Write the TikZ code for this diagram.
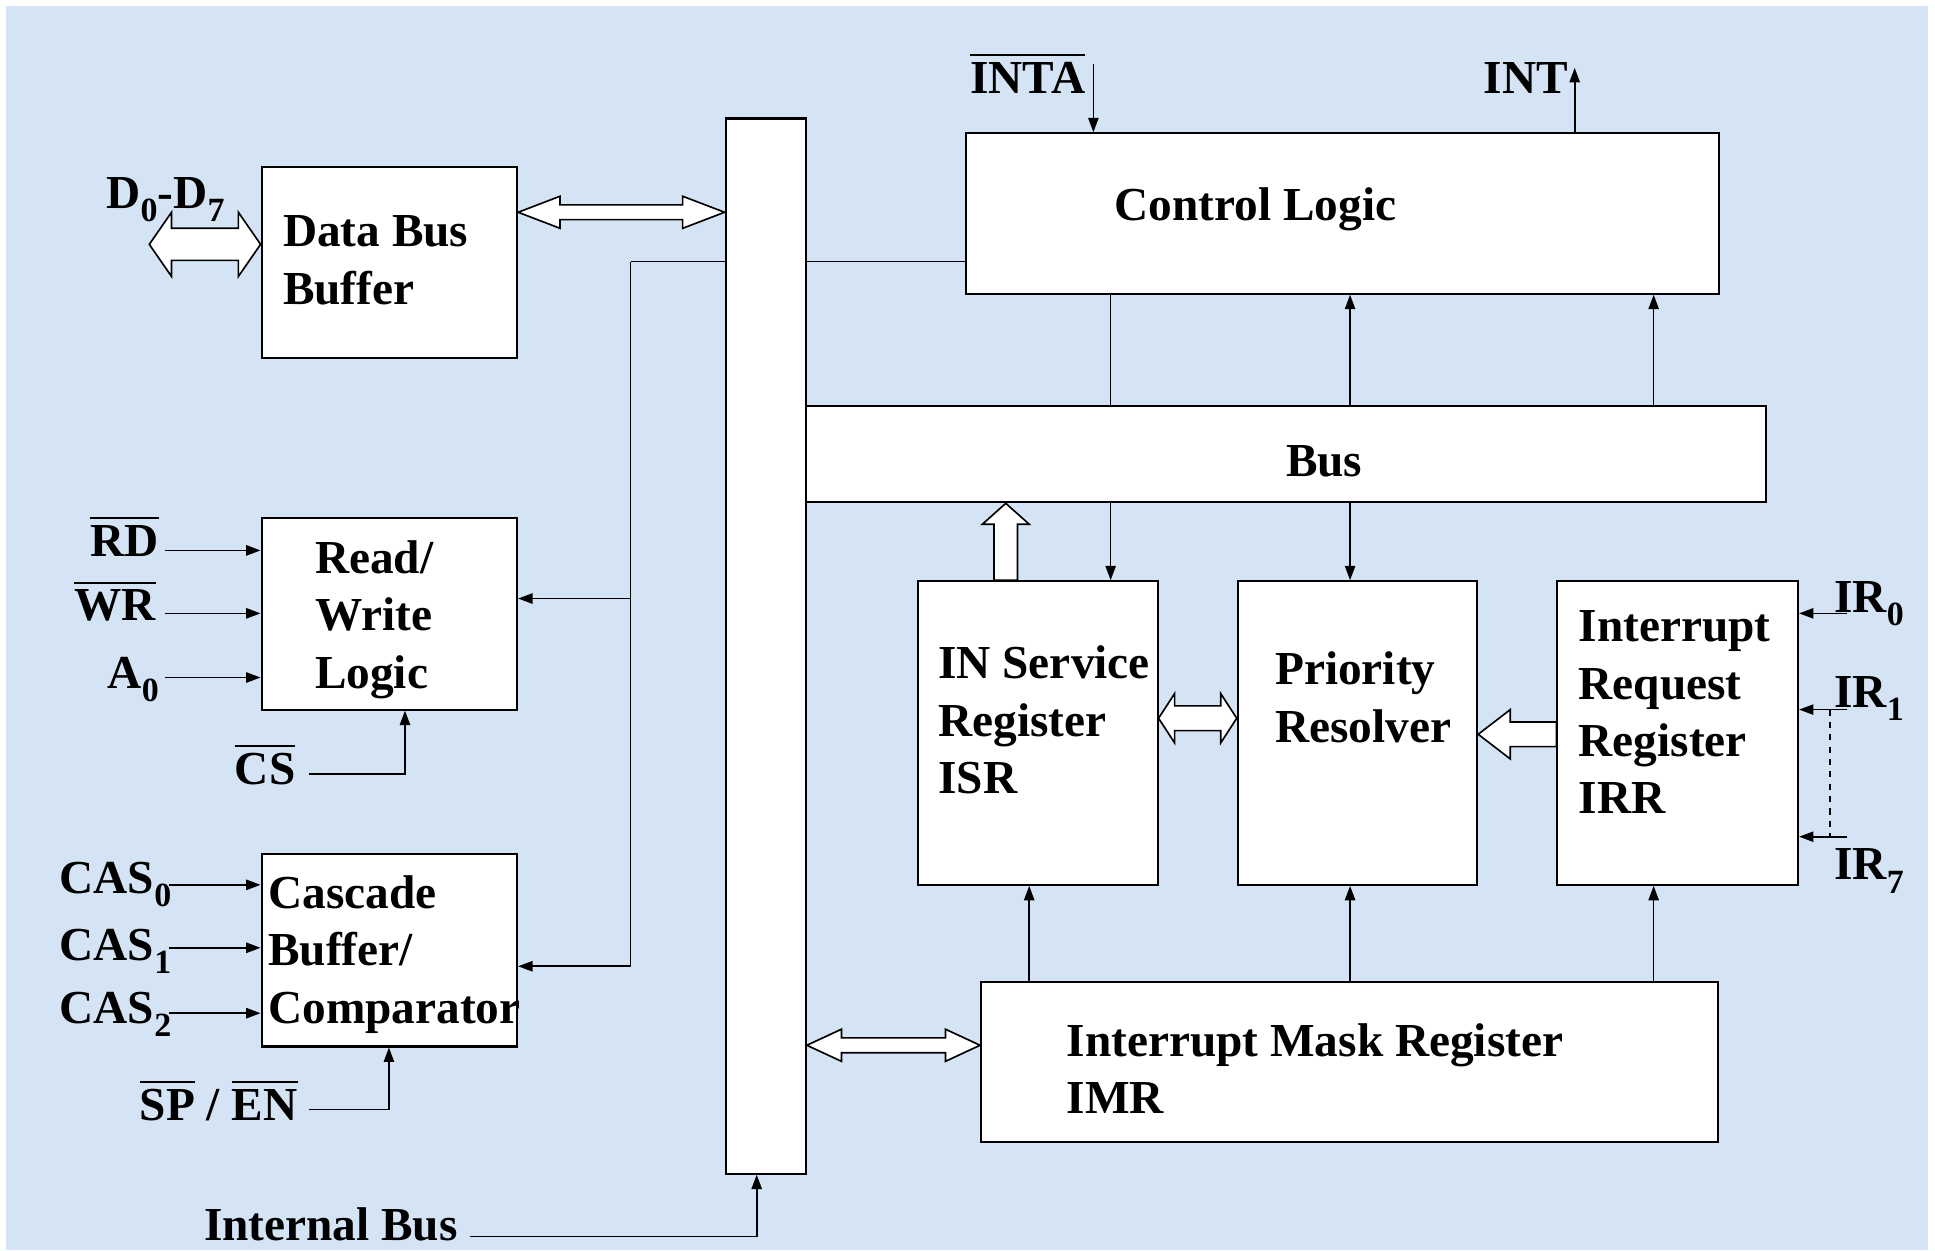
\documentclass[tikz,border=0pt]{standalone}
\usepackage{fontspec}
\setmainfont{Liberation Serif}
\usetikzlibrary{arrows.meta,fit,calc}
\definecolor{bgblue}{RGB}{213,228,244}
\newcommand\ml[1]{\vtop{\halign{##\hfil\cr#1\crcr}}}
\newcommand\ovl[1]{\vbox{\hrule height 1pt\kern 3pt\hbox{#1}}}
\newcommand\lsub[1]{\raisebox{-6.5pt}{\fontsize{16.5}{16.5}\selectfont #1}}
% horizontal double hollow arrow: #1 left tip, #2 right tip, #3 shaft half, #4 head half, #5 head length
\newcommand\hdouble[5]{\draw[hollow] (#1) -- ($(#1)+(#5,-#4)$) -- ($(#1)+(#5,-#3)$) -- ($(#2)+(-#5,-#3)$) -- ($(#2)+(-#5,-#4)$) -- (#2) -- ($(#2)+(-#5,#4)$) -- ($(#2)+(-#5,#3)$) -- ($(#1)+(#5,#3)$) -- ($(#1)+(#5,#4)$) -- cycle;}
% leftward single hollow arrow: #1 tip (left), #2 tail (right)
\newcommand\hleft[5]{\draw[hollow] (#1) -- ($(#1)+(#5,-#4)$) -- ($(#1)+(#5,-#3)$) -- ($(#2)+(0,-#3)$) -- ($(#2)+(0,#3)$) -- ($(#1)+(#5,#3)$) -- ($(#1)+(#5,#4)$) -- cycle;}
% upward single hollow arrow: #1 tip (top), #2 tail (bottom)
\newcommand\vup[5]{\draw[hollow] (#1) -- ($(#1)+(#4,#5)$) -- ($(#1)+(#3,#5)$) -- ($(#2)+(#3,0)$) -- ($(#2)+(-#3,0)$) -- ($(#1)+(-#3,#5)$) -- ($(#1)+(-#4,#5)$) -- cycle;}
\tikzset{
  box/.style={draw, fill=white, line width=1pt, inner sep=0pt},
  txt/.style={inner sep=0pt, anchor=base west, font=\bfseries\fontsize{23}{27.9}\selectfont},
  arr/.style={line width=0.8pt, -{Triangle[length=7pt,width=5pt]}},
  ln/.style={line width=0.8pt},
  hollow/.style={draw, fill=white, line width=0.8pt, line join=miter}
}
\begin{document}
\begin{tikzpicture}[x=0.6pt,y=-0.6pt]
\useasboundingbox (0,0) rectangle (1568,1013);
\fill[white] (0,0) rectangle (1568,1013);
\fill[bgblue] (5,5) rectangle (1562,1013);

% boxes
\node[box, fit={(212,135)(419,290)}] (dbb) {};
\node[box, fit={(212,420)(419,575)}] (rwl) {};
\node[box, fit={(212,692)(419,848)}] (cas) {};
\node[box, fit={(588,96)(653,951)}] (ibus) {};
\node[box, fit={(783,108)(1393,238)}] (ctl) {};
\node[box, fit={(653,329)(1431,407)}] (bus) {};
\node[box, fit={(744,471)(938,717)}] (isr) {};
\node[box, fit={(1003,471)(1197,717)}] (pr) {};
\node[box, fit={(1262,471)(1457,717)}] (irr) {};
\node[box, fit={(795,796)(1392,925)}] (imr) {};

% box texts
\node[txt] (dbbT) at (229,200) {\ml{Data Bus\cr Buffer}};
\node[txt] (rwlT) at (255,464.5) {\ml{Read/\cr Write\cr Logic}};
\node[txt] (casT) at (217,736) {\ml{Cascade\cr Buffer/\cr Comparator}};
\node[txt] (ctlT) at (903,179) {Control Logic};
\node[txt, anchor=base] (busT) at (1073,386.5) {Bus};
\node[txt] (isrT) at (760,550) {\ml{IN Service\cr Register\cr ISR}};
\node[txt] (prT) at (1033,555) {\ml{Priority\cr Resolver}};
\node[txt] (irrT) at (1279,520) {\ml{Interrupt\cr Request\cr Register\cr IRR}};
\node[txt] (imrT) at (864,856) {\ml{Interrupt Mask Register\cr IMR}};

% labels
\node[txt] (d07) at (86,169) {D\lsub{0}-D\lsub{7}};
\node[txt] (rd) at (73,451) {\ovl{RD}};
\node[txt] (wr) at (60,503) {\ovl{WR}};
\node[txt] (a0) at (87,557.5) {A\lsub{0}};
\node[txt] (cs) at (190,636) {\ovl{CS}};
\node[txt] (cas0) at (48,724) {CAS\lsub{0}};
\node[txt] (cas1) at (48,778) {CAS\lsub{1}};
\node[txt] (cas2) at (48,829) {CAS\lsub{2}};
\node[txt] (spen) at (113,907.6) {\ovl{SP} / \ovl{EN}};
\node[txt] (ib) at (165,1005) {Internal Bus};
\node[txt] (inta) at (786,75.6) {\ovl{INTA}};
\node[txt] (int) at (1202,75.6) {INT};
\node[txt] (ir0) at (1486,496) {IR\lsub{0}};
\node[txt] (ir1) at (1486,573) {IR\lsub{1}};
\node[txt] (ir7) at (1486,713) {IR\lsub{7}};

% left inputs
\coordinate (rdS) at (134,446);
\coordinate (wrS) at (134,497);
\coordinate (a0S) at (134,549);
\draw[arr] (rdS) -- (rdS -| rwl.west);
\draw[arr] (wrS) -- (wrS -| rwl.west);
\draw[arr] (a0S) -- (a0S -| rwl.west);
\coordinate (csS) at (250,627);
\draw[arr] (csS) -| ($(rwl.south west)+(117,0)$);
\coordinate (c0S) at (137,717);
\coordinate (c1S) at (137,768);
\coordinate (c2S) at (137,821);
\draw[arr] (c0S) -- (c0S -| cas.west);
\draw[arr] (c1S) -- (c1S -| cas.west);
\draw[arr] (c2S) -- (c2S -| cas.west);
\coordinate (spS) at (250,899);
\draw[arr] (spS) -| ($(cas.south west)+(104,0)$);
\coordinate (ibS) at (381,1002);
\draw[arr] (ibS) -| ($(ibus.south west)+(26,0)$);

% internal bus to left blocks
\coordinate (j) at (511,212);
\draw[ln] (ibus.west |- j) -- (j);
\draw[arr] (j) |- (cas.east |- 0,783);
\draw[arr] (j |- 0,485) -- (rwl.east |- 0,485);

% internal bus to control logic
\draw[ln] (ibus.east |- 0,212) -- (ctl.west |- 0,212);

% INTA / INT
\coordinate (intaS) at (886,52);
\draw[arr] (intaS) -- (intaS |- ctl.north);
\coordinate (intE) at (1276,55);
\draw[arr] (intE |- ctl.north) -- (intE);

% control logic <-> bus
\draw[ln] (ctl.south -| 900,0) -- (bus.north -| 900,0);
\draw[arr] (bus.north -| 1094,0) -- (ctl.south -| 1094,0);
\draw[arr] (bus.north -| 1340,0) -- (ctl.south -| 1340,0);

% bus to ISR / PR
\draw[arr] (bus.south -| 900,0) -- (isr.north -| 900,0);
\draw[arr] (bus.south -| 1094,0) -- (pr.north -| 1094,0);

% IMR up
\draw[arr] (imr.north -| 834,0) -- (isr.south -| 834,0);
\draw[arr] (imr.north -| 1094,0) -- (pr.south -| 1094,0);
\draw[arr] (imr.north -| 1340,0) -- (irr.south -| 1340,0);

% IR inputs
\coordinate (ir0S) at (1497,497);
\coordinate (ir1S) at (1497,575);
\coordinate (ir7S) at (1497,678);
\draw[arr] (ir0S) -- (ir0S -| irr.east);
\draw[arr] (ir1S) -- (ir1S -| irr.east);
\draw[arr] (ir7S) -- (ir7S -| irr.east);
\draw[ln, dashed] ($(ir1S)+(-14,0)$) -- ($(ir7S)+(-14,0)$);

% hollow arrows
\coordinate (dL) at (121,198);
\coordinate (dR) at (dbb.west |- dL);
\hdouble{dL}{dR}{13}{26}{18}
\coordinate (hA) at (dbb.east |- 0,172);
\coordinate (hB) at (ibus.west |- 0,172);
\hdouble{hA}{hB}{6}{13}{34}
\coordinate (mA) at (ibus.east |- 0,847);
\coordinate (mB) at (imr.west |- 0,847);
\hdouble{mA}{mB}{6}{13}{28}
\coordinate (sA) at (isr.east |- 0,582);
\coordinate (sB) at (pr.west |- 0,582);
\hdouble{sA}{sB}{10}{20}{13}
\coordinate (pA) at (pr.east |- 0,595);
\coordinate (pB) at (irr.west |- 0,595);
\hleft{pA}{pB}{10}{20}{26}
\coordinate (uT) at (bus.south -| 815,0);
\coordinate (uB) at (isr.north -| 815,0);
\vup{uT}{uB}{9.5}{19}{17}
\end{tikzpicture}
\end{document}
